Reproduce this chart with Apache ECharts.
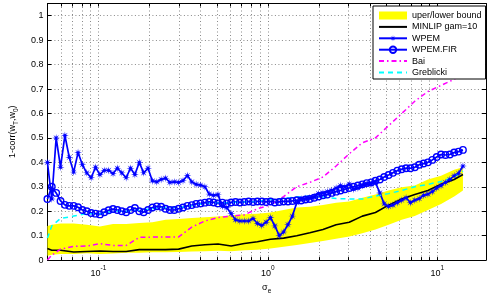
<!DOCTYPE html>
<html>
<head>
<meta charset="utf-8">
<script src="https://cdn.jsdelivr.net/npm/echarts@6/dist/echarts.min.js"></script>
<style>
  html, body { margin: 0; padding: 0; background: #fff; }
  #chart { width: 487px; height: 300px; }
</style>
</head>
<body>
<div id="chart"></div>
<script>
// sigma_e grid used by the WPEM curves
const sigma = [0.0500, 0.05306, 0.05631, 0.05976, 0.06342, 0.06731, 0.07143, 0.07581, 0.08045, 0.08538,
  0.09061, 0.09616, 0.1021, 0.1083, 0.1149, 0.1220, 0.1294, 0.1374, 0.1458, 0.1547,
  0.1642, 0.1743, 0.1849, 0.1963, 0.2083, 0.2211, 0.2346, 0.2490, 0.2642, 0.2804,
  0.2976, 0.3158, 0.3352, 0.3557, 0.3775, 0.4006, 0.4252, 0.4512, 0.4789, 0.5082,
  0.5393, 0.5724, 0.6074, 0.6446, 0.6841, 0.7260, 0.7705, 0.8177, 0.8677, 0.9207,
  0.9770, 1.037, 1.100, 1.168, 1.239, 1.315, 1.396, 1.481, 1.572, 1.668,
  1.770, 1.879, 1.994, 2.116, 2.245, 2.383, 2.529, 2.684, 2.848, 3.023,
  3.208, 3.404, 3.613, 3.834, 4.069, 4.318, 4.582, 4.863, 5.161, 5.477,
  5.812, 6.168, 6.546, 6.947, 7.372, 7.824, 8.303, 8.811, 9.351, 9.926,
  10.53, 11.18, 11.86, 12.59, 13.36, 14.18]

const wpem = [0.40, 0.25, 0.50, 0.38, 0.51, 0.42, 0.36, 0.44, 0.39, 0.357,
  0.337, 0.38, 0.35, 0.367, 0.367, 0.354, 0.376, 0.357, 0.337, 0.376,
  0.35, 0.40, 0.357, 0.376, 0.324, 0.32, 0.33, 0.335, 0.318, 0.32,
  0.318, 0.325, 0.346, 0.32, 0.31, 0.307, 0.30, 0.27, 0.265, 0.268,
  0.22, 0.215, 0.19, 0.165, 0.16, 0.16, 0.16, 0.17, 0.15, 0.142,
  0.155, 0.174, 0.14, 0.10, 0.115, 0.145, 0.18, 0.235, 0.25, 0.252,
  0.255, 0.26, 0.272, 0.275, 0.28, 0.285, 0.295, 0.305, 0.30, 0.311,
  0.29, 0.295, 0.305, 0.31, 0.311, 0.318, 0.275, 0.23, 0.22, 0.225,
  0.235, 0.245, 0.255, 0.235, 0.245, 0.252, 0.265, 0.27, 0.28, 0.295,
  0.305, 0.318, 0.33, 0.345, 0.355, 0.385]

const wpemFir = [0.25, 0.30, 0.275, 0.242, 0.226, 0.222, 0.222, 0.216, 0.205, 0.20,
  0.193, 0.19, 0.187, 0.196, 0.204, 0.209, 0.205, 0.20, 0.196, 0.205,
  0.213, 0.20, 0.196, 0.205, 0.215, 0.22, 0.218, 0.21, 0.205, 0.205,
  0.21, 0.215, 0.222, 0.225, 0.23, 0.232, 0.235, 0.238, 0.236, 0.232,
  0.235, 0.232, 0.236, 0.238, 0.236, 0.238, 0.24, 0.238, 0.24, 0.24,
  0.238, 0.24, 0.236, 0.238, 0.24, 0.24, 0.242, 0.245, 0.244, 0.248,
  0.25, 0.255, 0.26, 0.265, 0.268, 0.275, 0.28, 0.285, 0.29, 0.295,
  0.30, 0.305, 0.31, 0.315, 0.318, 0.325, 0.33, 0.34, 0.348, 0.357,
  0.366, 0.372, 0.376, 0.376, 0.38, 0.39, 0.395, 0.40, 0.41, 0.422,
  0.432, 0.43, 0.432, 0.44, 0.444, 0.451]

// coarser grid for the smooth curves
const sigmaCoarse = [0.0500, 0.05306, 0.05976, 0.07143, 0.08538, 0.1021, 0.1220, 0.1458, 0.1743, 0.2083,
  0.2490, 0.2976, 0.3557, 0.4252, 0.5082, 0.6074, 0.7260, 0.8677, 1.037, 1.239,
  1.481, 1.770, 2.116, 2.529, 3.023, 3.613, 4.318, 5.161, 6.168, 7.372,
  8.811, 10.53, 12.59, 14.18]

const upperBound = [0.14, 0.145, 0.15, 0.15, 0.145, 0.138, 0.148, 0.148, 0.152, 0.155,
  0.165, 0.168, 0.172, 0.175, 0.178, 0.184, 0.188, 0.19, 0.195, 0.205,
  0.215, 0.218, 0.225, 0.235, 0.24, 0.255, 0.268, 0.285, 0.298, 0.305,
  0.33, 0.345, 0.37, 0.38]

const lowerBound = [0.018, 0.022, 0.025, 0.025, 0.028, 0.025, 0.027, 0.03, 0.03, 0.032,
  0.032, 0.033, 0.035, 0.036, 0.038, 0.036, 0.04, 0.042, 0.047, 0.055,
  0.062, 0.07, 0.078, 0.087, 0.097, 0.11, 0.125, 0.145, 0.165, 0.18,
  0.205, 0.23, 0.26, 0.285]

const minlip = [0.047, 0.04, 0.04, 0.033, 0.035, 0.037, 0.035, 0.035, 0.043, 0.043,
  0.043, 0.045, 0.058, 0.063, 0.066, 0.058, 0.068, 0.075, 0.085, 0.09,
  0.10, 0.112, 0.125, 0.145, 0.155, 0.18, 0.195, 0.225, 0.25, 0.268,
  0.285, 0.31, 0.33, 0.35]

const bai = [0.0, 0.02, 0.045, 0.056, 0.058, 0.067, 0.06, 0.06, 0.093, 0.094,
  0.095, 0.095, 0.135, 0.16, 0.174, 0.18, 0.185, 0.21, 0.226, 0.26,
  0.30, 0.318, 0.34, 0.385, 0.435, 0.48, 0.50, 0.55, 0.60, 0.65,
  0.69, 0.715, 0.74, 0.765]

const greblicki = [0.09, 0.14, 0.17, 0.18, 0.19, 0.19, 0.20, 0.20, 0.205, 0.21,
  0.215, 0.215, 0.222, 0.232, 0.235, 0.235, 0.238, 0.24, 0.248, 0.252,
  0.258, 0.262, 0.258, 0.252, 0.25, 0.25, 0.262, 0.272, 0.285, 0.30,
  0.31, 0.322, 0.34, 0.364]

// log axis ticks (minor grid like matlab) and labelled decades
const xTicks = [0.06, 0.07, 0.08, 0.09, 0.1, 0.2, 0.3, 0.4, 0.5, 0.6, 0.7, 0.8, 0.9,
  1, 2, 3, 4, 5, 6, 7, 8, 9, 10]
const xLabels = [0.1, 1, 10]

const FONT = '"Liberation Sans", Arial, sans-serif'
const BLUE = '#0000ff'
const YELLOW = '#ffff00'
// matlab style asterisk marker
const STAR = 'path://M20,10 L12.8,11.2 L17.07,17.07 L11.2,12.8 L10,20 L8.8,12.8 L2.93,17.07 L7.2,11.2 L0,10 L7.2,8.8 L2.93,2.93 L8.8,7.2 L10,0 L11.2,7.2 L17.07,2.93 L12.8,8.8 Z'

const pairs = (xs, ys) => xs.map((x, k) => [x, ys[k]])

const gridLine = { show: true, lineStyle: { color: '#8a8a8a', width: 1, type: [1, 2.5] } }
const blackLine = { show: true, onZero: false, lineStyle: { color: '#000', width: 1 } }
const noMark = { color: 'rgba(0,0,0,0)', borderWidth: 0 }

const chart = echarts.init(document.getElementById('chart'))

const option = {
  animation: false,
  backgroundColor: '#fff',
  grid: { left: 42, right: 1, top: 3.5, bottom: 29, containLabel: false },
  legend: {
    orient: 'vertical',
    left: 373,
    top: 6,
    data: [
      { name: 'uper/lower bound', icon: 'rect' },
      { name: 'MINLIP gam=10', itemStyle: noMark },
      'WPEM',
      'WPEM.FIR',
      { name: 'Bai', itemStyle: noMark },
      { name: 'Greblicki', itemStyle: noMark }
    ],
    itemWidth: 28,
    itemHeight: 8,
    itemGap: 2.4,
    backgroundColor: '#fff',
    borderColor: '#000',
    borderWidth: 1,
    borderRadius: 0,
    padding: [5, 4, 2, 5],
    textStyle: { fontFamily: FONT, fontSize: 9, color: '#000' }
  },
  xAxis: [
    {
      type: 'log',
      logBase: 10,
      min: 0.05,
      max: 19.4,
      axisLine: blackLine,
      axisTick: { show: true, inside: true, length: 3, customValues: xTicks, lineStyle: { color: '#000' } },
      axisLabel: {
        customValues: xLabels,
        margin: 5,
        formatter: v => '{b|10}{s|' + Math.round(Math.log10(v)) + '}',
        rich: {
          b: { fontFamily: FONT, fontSize: 9, color: '#000', lineHeight: 13, verticalAlign: 'bottom' },
          s: { fontFamily: FONT, fontSize: 6.5, color: '#000', lineHeight: 7, verticalAlign: 'top' }
        }
      },
      splitLine: gridLine,
      name: '{a|σ}{s|e}',
      nameLocation: 'middle',
      nameGap: 15,
      nameTextStyle: {
        rich: {
          a: { fontFamily: FONT, fontSize: 9, color: '#000', lineHeight: 12, verticalAlign: 'top' },
          s: { fontFamily: FONT, fontSize: 6.5, color: '#000', lineHeight: 7, verticalAlign: 'bottom' }
        }
      }
    },
    {
      type: 'log',
      logBase: 10,
      position: 'top',
      min: 0.05,
      max: 19.4,
      axisLine: blackLine,
      axisTick: { show: true, inside: true, length: 3, customValues: xTicks, lineStyle: { color: '#000' } },
      axisLabel: { show: false },
      splitLine: { show: false }
    }
  ],
  yAxis: [
    {
      type: 'value',
      min: 0,
      max: 1.05,
      interval: 0.1,
      axisLine: blackLine,
      axisTick: { show: true, inside: true, length: 4, lineStyle: { color: '#000' } },
      axisLabel: { fontFamily: FONT, fontSize: 9, color: '#000', margin: 4, showMaxLabel: false },
      splitLine: gridLine,
      name: '{a|1-corr(w}{s|T}{a|,w}{s|0}{a|)}',
      nameLocation: 'middle',
      nameGap: 26,
      nameTextStyle: {
        rich: {
          a: { fontFamily: FONT, fontSize: 9, color: '#000', lineHeight: 12, verticalAlign: 'top' },
          s: { fontFamily: FONT, fontSize: 6.5, color: '#000', lineHeight: 7, verticalAlign: 'bottom' }
        }
      }
    },
    {
      type: 'value',
      position: 'right',
      min: 0,
      max: 1.05,
      interval: 0.1,
      axisLine: blackLine,
      axisTick: { show: true, inside: true, length: 4, lineStyle: { color: '#000' } },
      axisLabel: { show: false },
      splitLine: { show: false }
    }
  ],
  series: [
    {
      // filled band between lower and upper bound
      name: 'uper/lower bound',
      type: 'custom',
      data: sigmaCoarse.map((x, k) => [x, lowerBound[k], upperBound[k]]),
      encode: { x: 0, y: [1, 2] },
      itemStyle: { color: YELLOW },
      silent: true,
      renderItem: (params, api) => {
        if (params.dataIndex !== 0) return null
        const top = sigmaCoarse.map((x, k) => api.coord([x, upperBound[k]]))
        const bottom = sigmaCoarse.map((x, k) => api.coord([x, lowerBound[k]])).reverse()
        return {
          type: 'polygon',
          shape: { points: top.concat(bottom) },
          style: { fill: YELLOW, stroke: null }
        }
      }
    },
    {
      name: 'MINLIP gam=10',
      type: 'line',
      data: pairs(sigmaCoarse, minlip),
      symbol: 'none',
      itemStyle: { color: '#000' },
      lineStyle: { color: '#000', width: 1.6 }
    },
    {
      name: 'WPEM',
      type: 'line',
      data: pairs(sigma, wpem),
      symbol: STAR,
      symbolSize: 8,
      itemStyle: { color: BLUE },
      lineStyle: { color: BLUE, width: 1.7 }
    },
    {
      name: 'WPEM.FIR',
      type: 'line',
      data: pairs(sigma, wpemFir),
      symbol: 'circle',
      symbolSize: 6.5,
      itemStyle: { color: 'rgba(0,0,0,0)', borderColor: BLUE, borderWidth: 1.4 },
      lineStyle: { color: BLUE, width: 1.7 }
    },
    {
      name: 'Bai',
      type: 'line',
      data: pairs(sigmaCoarse, bai),
      symbol: 'none',
      itemStyle: { color: '#ff00ff' },
      lineStyle: { color: '#ff00ff', width: 1.5, type: [5, 3, 1.5, 3] }
    },
    {
      name: 'Greblicki',
      type: 'line',
      data: pairs(sigmaCoarse, greblicki),
      symbol: 'none',
      itemStyle: { color: '#00ffff' },
      lineStyle: { color: '#00ffff', width: 1.5, type: [5, 4] }
    }
  ]
}

chart.setOption(option)
</script>
</body>
</html>
